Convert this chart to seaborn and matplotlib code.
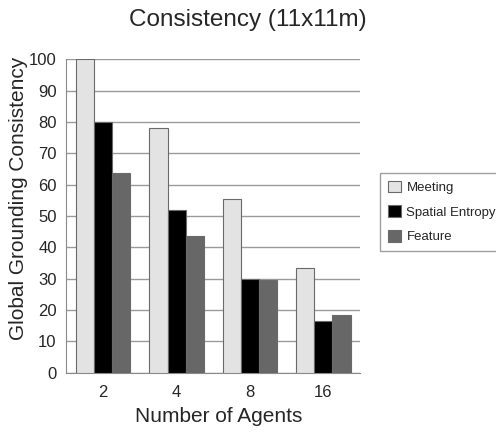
"""
Consistency bar chart (11x11m)
"""
import numpy as np
import pandas as pd
import matplotlib
matplotlib.use("Agg")
import matplotlib.pyplot as plt
import seaborn as sns

# Data
agents = ["2", "4", "8", "16"]
meeting = [100, 78, 55.3, 33.3]
spatial_entropy = [80, 52, 30, 16.5]
feature = [63.6, 43.5, 29.6, 18.5]
methods = ["Meeting", "Spatial Entropy", "Feature"]
y_ticks = list(range(0, 101, 10))

df = pd.DataFrame({
    "Agents": agents * 3,
    "Method": np.repeat(methods, len(agents)),
    "Value": meeting + spatial_entropy + feature,
})

sns.set_style("white")
plt.rcParams["font.family"] = ["Liberation Sans", "DejaVu Sans"]

fig = plt.figure(figsize=(4.96, 4.32), dpi=100)
ax = fig.add_axes([0.134, 0.137, 0.592, 0.726])

palette = {"Meeting": "#e3e3e3", "Spatial Entropy": "#000000", "Feature": "#676767"}
sns.barplot(data=df, x="Agents", y="Value", hue="Method", order=agents,
            hue_order=methods, palette=palette, width=0.74, saturation=1,
            edgecolor="#6a6a6a", linewidth=0.8, ax=ax, zorder=3)

ax.set_ylim(0, 100)
ax.set_xlim(-0.5, len(agents) - 0.5)
ax.set_yticks(y_ticks)
ax.yaxis.grid(True, color="#9a9a9a", linewidth=1.0, zorder=0)
ax.set_axisbelow(True)
for side in ["top", "right"]:
    ax.spines[side].set_visible(False)
for side in ["left", "bottom"]:
    ax.spines[side].set_color("#8a8a8a")

# category boundary ticks on x
ax.set_xticks(np.arange(len(agents)))
ax.set_xticklabels(agents, fontsize=12)
ax.set_xticks(np.arange(0.5, len(agents) - 0.5), minor=True)
ax.tick_params(axis="x", which="major", length=0, pad=9)
ax.tick_params(axis="x", which="minor", length=4, color="#8a8a8a")
ax.tick_params(axis="y", length=5, color="#8a8a8a", labelsize=12, pad=2)

ax.set_xlabel("Number of Agents", fontsize=15)
ax.xaxis.set_label_coords(0.52, -0.11)
ax.set_ylabel("Global Grounding Consistency", fontsize=15, va="center")
ax.yaxis.set_label_coords(-0.162, 0.557)
fig.text(0.5, 1 - 20 / 432, "Consistency (11x11m)", fontsize=17.5,
         ha="center", va="center")

leg = ax.legend(loc="center left", bbox_to_anchor=(1.068, 0.513), frameon=True,
                fancybox=False, edgecolor="#888888", fontsize=9.5,
                handlelength=1.0, handleheight=1.0, handletextpad=0.4,
                borderpad=0.6, labelspacing=0.85, borderaxespad=0)

fig.savefig("out.png", dpi=100)
